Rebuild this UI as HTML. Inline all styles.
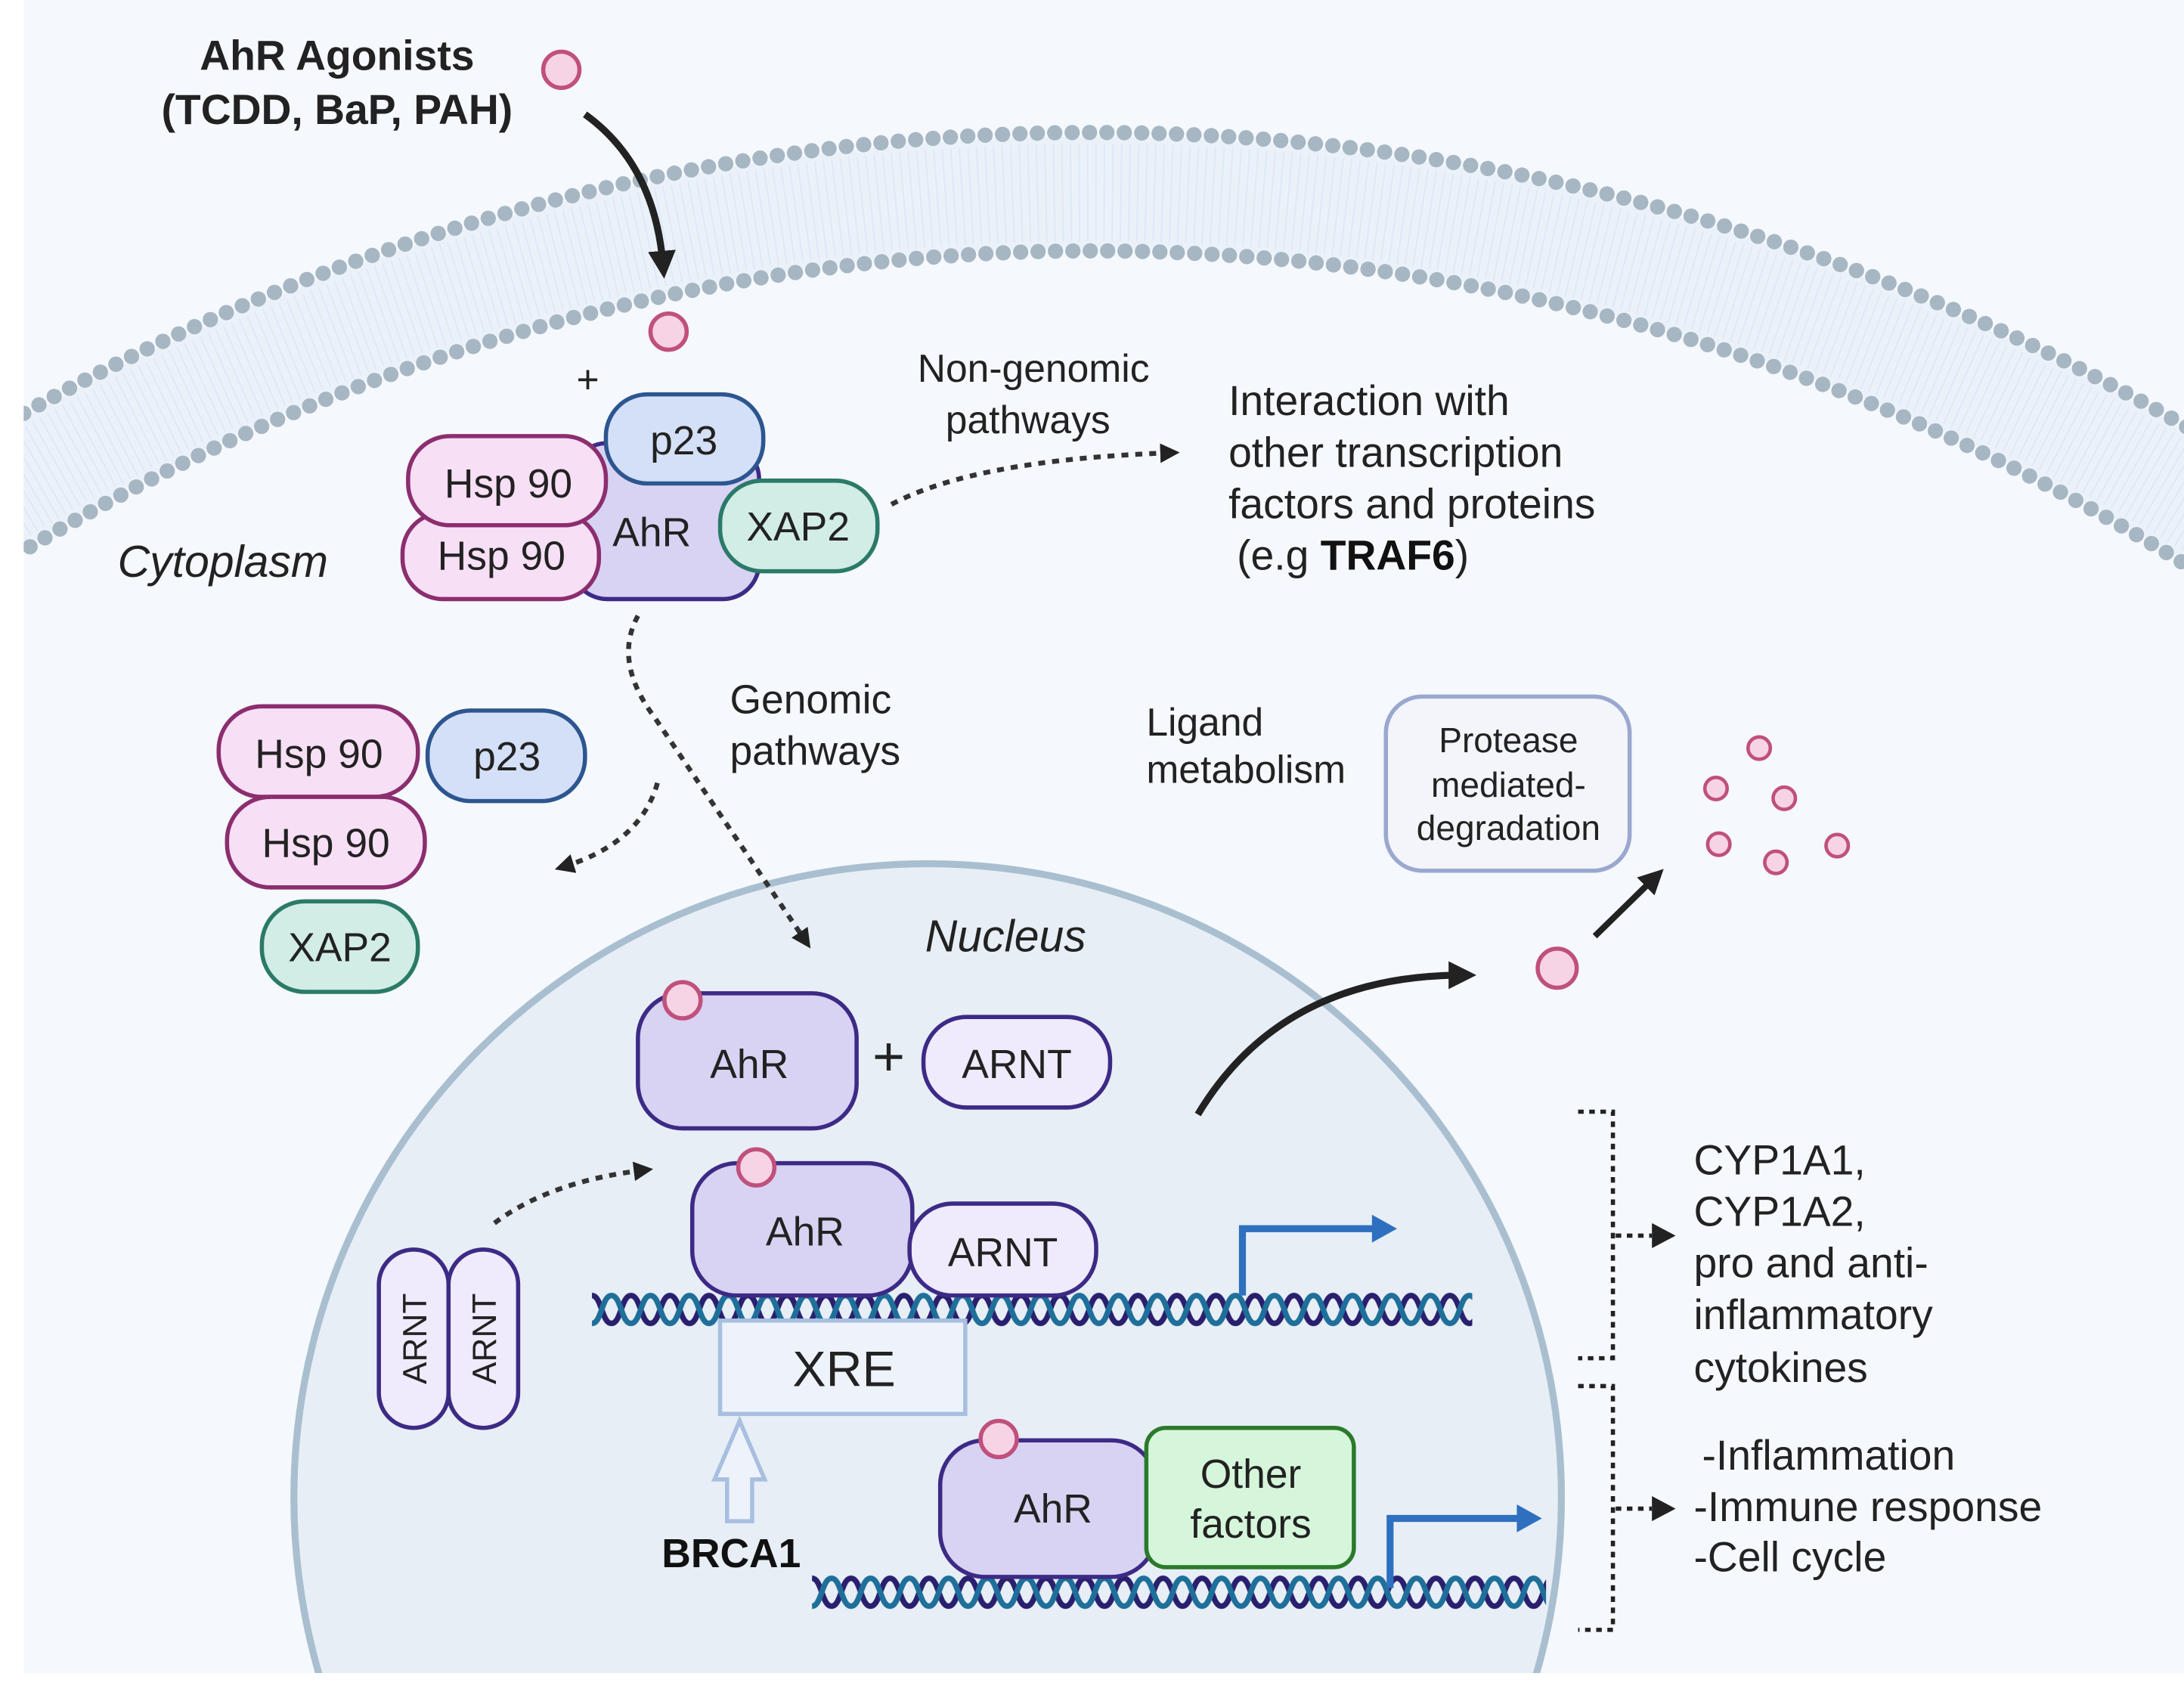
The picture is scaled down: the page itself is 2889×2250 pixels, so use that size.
<!DOCTYPE html>
<html><head><meta charset="utf-8"><style>
html,body{margin:0;padding:0;background:#fff;width:2889px;height:2250px;overflow:hidden;}
svg{display:block}
text{font-family:"Liberation Sans",sans-serif;fill:#222;}
</style></head><body>
<svg width="2889" height="2250" viewBox="0 0 1568 1221" xmlns="http://www.w3.org/2000/svg">
<defs>
<pattern id="dna1" x="425" y="926" width="28" height="28" patternUnits="userSpaceOnUse">
<path d="M0,4 C7,4 7,24 14,24 C21,24 21,4 28,4" fill="none" stroke="#2a1f6e" stroke-width="4"/>
<path d="M0,24 C7,24 7,4 14,4 C21,4 21,24 28,24" fill="none" stroke="#1e6f99" stroke-width="4"/>
</pattern>
<pattern id="dna2" x="583" y="1129" width="28" height="28" patternUnits="userSpaceOnUse">
<path d="M0,4 C7,4 7,24 14,24 C21,24 21,4 28,4" fill="none" stroke="#2a1f6e" stroke-width="4"/>
<path d="M0,24 C7,24 7,4 14,4 C21,4 21,24 28,24" fill="none" stroke="#1e6f99" stroke-width="4"/>
</pattern>
<marker id="ah" viewBox="0 0 10 10" refX="5" refY="5" markerWidth="4" markerHeight="4" orient="auto"><path d="M0,0 L10,5 L0,10z" fill="#222"/></marker>
<clipPath id="cl"><rect x="17" y="0" width="1551" height="1201"/></clipPath>
</defs>
<rect x="0" y="0" width="1568" height="1221" fill="#fff"/>
<g clip-path="url(#cl)">
<rect x="17" y="0" width="1551" height="1201" fill="#f5f8fc"/>
<circle cx="785" cy="1658" r="1520" fill="none" stroke="#eaf1f9" stroke-width="80"/>
<circle cx="785" cy="1658" r="1520" fill="none" stroke="#d6e5f3" stroke-width="70" stroke-dasharray="1 5" opacity="0.6"/>
<circle cx="785" cy="1658" r="1563" fill="none" stroke="#a7b6c3" stroke-width="11" stroke-linecap="round" stroke-dasharray="0 12.5"/>
<circle cx="785" cy="1658" r="1478" fill="none" stroke="#a7b6c3" stroke-width="11" stroke-linecap="round" stroke-dasharray="0 12.5"/>
<circle cx="666" cy="1075" r="455" fill="#e7eef6" stroke="#a9bfd0" stroke-width="5"/>
</g>

<text x="242" y="50" font-size="30" font-weight="bold" text-anchor="middle">AhR Agonists</text>
<text x="242" y="89" font-size="30" font-weight="bold" text-anchor="middle">(TCDD, BaP, PAH)</text>
<circle cx="403" cy="50" r="13" fill="#f7d3e6" stroke="#c0507c" stroke-width="3"/>
<path d="M420,82 Q470,118 476,190" fill="none" stroke="#222" stroke-width="5" marker-end="url(#ah)"/>
<circle cx="480" cy="238" r="13" fill="#f7d3e6" stroke="#c0507c" stroke-width="3"/>
<text x="422" y="282" font-size="28" text-anchor="middle">+</text>

<rect x="410" y="318" width="135" height="112" rx="26" fill="#d8d2f3" stroke="#3d2a85" stroke-width="3"/>
<rect x="435" y="283" width="113" height="64" rx="30" fill="#d4e0f7" stroke="#2d5690" stroke-width="3"/>
<rect x="289" y="368" width="141" height="62" rx="29" fill="#f7dff5" stroke="#8b2e6f" stroke-width="3"/>
<rect x="293" y="313" width="142" height="64" rx="30" fill="#f7dff5" stroke="#8b2e6f" stroke-width="3"/>
<rect x="517" y="345" width="113" height="65" rx="30" fill="#d2ece6" stroke="#2b7a68" stroke-width="3"/>
<text x="491" y="326" font-size="29" text-anchor="middle">p23</text>
<text x="365" y="357" font-size="29" text-anchor="middle">Hsp 90</text>
<text x="360" y="409" font-size="29" text-anchor="middle">Hsp 90</text>
<text x="468" y="392" font-size="29" text-anchor="middle">AhR</text>
<text x="573" y="388" font-size="29" text-anchor="middle">XAP2</text>
<text x="160" y="414" font-size="32" font-style="italic" text-anchor="middle">Cytoplasm</text>

<text x="742" y="274" font-size="28" text-anchor="middle">Non-genomic</text>
<text x="738" y="311" font-size="28" text-anchor="middle">pathways</text>
<path d="M640,362 Q700,330 840,325" fill="none" stroke="#333" stroke-width="3.5" stroke-dasharray="5 5" marker-end="url(#ah)"/>
<text x="882" y="298" font-size="30">Interaction with</text>
<text x="882" y="335" font-size="30">other transcription</text>
<text x="882" y="372" font-size="30">factors and proteins</text>
<text x="888" y="409" font-size="30">(e.g <tspan font-weight="bold" style="fill:#111">TRAF6</tspan>)</text>

<path d="M458,442 Q440,475 470,515 L578,675" fill="none" stroke="#333" stroke-width="3.5" stroke-dasharray="5 5" marker-end="url(#ah)"/>
<text x="524" y="512" font-size="29">Genomic</text>
<text x="524" y="549" font-size="29">pathways</text>
<path d="M472,562 Q460,605 405,622" fill="none" stroke="#333" stroke-width="3.5" stroke-dasharray="5 5" marker-end="url(#ah)"/>

<rect x="157" y="507" width="143" height="65" rx="31" fill="#f7dff5" stroke="#8b2e6f" stroke-width="3"/>
<rect x="307" y="510" width="113" height="65" rx="31" fill="#d4e0f7" stroke="#2d5690" stroke-width="3"/>
<rect x="163" y="572" width="142" height="65" rx="31" fill="#f7dff5" stroke="#8b2e6f" stroke-width="3"/>
<rect x="188" y="647" width="112" height="65" rx="31" fill="#d2ece6" stroke="#2b7a68" stroke-width="3"/>
<text x="229" y="551" font-size="29" text-anchor="middle">Hsp 90</text>
<text x="364" y="553" font-size="29" text-anchor="middle">p23</text>
<text x="234" y="615" font-size="29" text-anchor="middle">Hsp 90</text>
<text x="244" y="690" font-size="29" text-anchor="middle">XAP2</text>

<text x="823" y="528" font-size="28">Ligand</text>
<text x="823" y="562" font-size="28">metabolism</text>
<rect x="995" y="500" width="175" height="125" rx="26" fill="#f3f5fa" stroke="#9aa8d0" stroke-width="3"/>
<text x="1083" y="540" font-size="25" text-anchor="middle">Protease</text>
<text x="1083" y="572" font-size="25" text-anchor="middle">mediated-</text>
<text x="1083" y="603" font-size="25" text-anchor="middle">degradation</text>
<g fill="#f7d3e6" stroke="#c0507c" stroke-width="2.5">
<circle cx="1263" cy="537" r="8"/><circle cx="1232" cy="566" r="8"/><circle cx="1281" cy="573" r="8"/>
<circle cx="1234" cy="606" r="8"/><circle cx="1275" cy="619" r="8"/><circle cx="1319" cy="607" r="8"/>
<circle cx="1118" cy="695" r="14" stroke-width="3"/>
</g>
<path d="M1145,672 L1188,630" stroke="#222" stroke-width="4.5" fill="none" marker-end="url(#ah)"/>
<path d="M860,800 Q920,700 1050,700" stroke="#222" stroke-width="5" fill="none" marker-end="url(#ah)"/>

<text x="722" y="683" font-size="32" font-style="italic" text-anchor="middle">Nucleus</text>
<rect x="458" y="713" width="157" height="97" rx="32" fill="#d8d2f3" stroke="#3d2a85" stroke-width="3"/>
<circle cx="490" cy="718" r="13" fill="#f7d3e6" stroke="#c0507c" stroke-width="3"/>
<text x="538" y="774" font-size="29" text-anchor="middle">AhR</text>
<text x="638" y="772" font-size="40" text-anchor="middle">+</text>
<rect x="663" y="730" width="134" height="65" rx="31" fill="#efeafc" stroke="#3d2a85" stroke-width="3"/>
<text x="730" y="774" font-size="29" text-anchor="middle">ARNT</text>

<rect x="425" y="926" width="632" height="28" fill="url(#dna1)"/>
<rect x="583" y="1129" width="527" height="28" fill="url(#dna2)"/>

<rect x="497" y="835" width="158" height="95" rx="32" fill="#d8d2f3" stroke="#3d2a85" stroke-width="3"/>
<circle cx="543" cy="838" r="13" fill="#f7d3e6" stroke="#c0507c" stroke-width="3"/>
<text x="578" y="894" font-size="29" text-anchor="middle">AhR</text>
<rect x="653" y="864" width="134" height="66" rx="31" fill="#efeafc" stroke="#3d2a85" stroke-width="3"/>
<text x="720" y="909" font-size="29" text-anchor="middle">ARNT</text>

<rect x="517" y="948" width="176" height="67" fill="#eef3fb" stroke="#a9bfe0" stroke-width="3"/>
<text x="606" y="995" font-size="36" text-anchor="middle">XRE</text>
<path d="M531,1020 L549,1062 L540,1062 L540,1092 L522,1092 L522,1062 L513,1062 Z" fill="#eef3fb" stroke="#a9bfe0" stroke-width="3"/>
<text x="525" y="1125" font-size="29" font-weight="bold" text-anchor="middle" style="fill:#111">BRCA1</text>

<rect x="272" y="897" width="50" height="128" rx="25" fill="#efeafc" stroke="#3d2a85" stroke-width="3"/>
<rect x="322" y="897" width="50" height="128" rx="25" fill="#efeafc" stroke="#3d2a85" stroke-width="3"/>
<text transform="translate(306,961) rotate(-90)" font-size="24" text-anchor="middle">ARNT</text>
<text transform="translate(356,961) rotate(-90)" font-size="24" text-anchor="middle">ARNT</text>
<path d="M355,878 Q395,848 462,840" fill="none" stroke="#333" stroke-width="3.5" stroke-dasharray="5 5" marker-end="url(#ah)"/>

<path d="M892,930 L892,882 L988,882" fill="none" stroke="#2f6fbf" stroke-width="5"/>
<path d="M985,872 L1003,882 L985,892 Z" fill="#2f6fbf"/>
<path d="M998,1140 L998,1090 L1092,1090" fill="none" stroke="#2f6fbf" stroke-width="5"/>
<path d="M1089,1080 L1107,1090 L1089,1100 Z" fill="#2f6fbf"/>

<rect x="675" y="1034" width="155" height="98" rx="32" fill="#d8d2f3" stroke="#3d2a85" stroke-width="3"/>
<circle cx="717" cy="1033" r="13" fill="#f7d3e6" stroke="#c0507c" stroke-width="3"/>
<text x="756" y="1093" font-size="29" text-anchor="middle">AhR</text>
<rect x="823" y="1025" width="149" height="100" rx="14" fill="#d6f6dc" stroke="#2a7a2a" stroke-width="3"/>
<text x="898" y="1068" font-size="29" text-anchor="middle">Other</text>
<text x="898" y="1104" font-size="29" text-anchor="middle">factors</text>

<g fill="none" stroke="#222" stroke-width="3" stroke-dasharray="4 4">
<path d="M1133,798 L1158,798 L1158,975 L1133,975"/>
<path d="M1133,995 L1158,995 L1158,1170 L1133,1170"/>
<path d="M1160,887 L1186,887"/>
<path d="M1160,1083 L1186,1083"/>
</g>
<path d="M1186,878 L1203,887 L1186,896 Z" fill="#222"/>
<path d="M1186,1074 L1203,1083 L1186,1092 Z" fill="#222"/>
<g font-size="30">
<text x="1216" y="843">CYP1A1,</text>
<text x="1216" y="880">CYP1A2,</text>
<text x="1216" y="917">pro and anti-</text>
<text x="1216" y="954">inflammatory</text>
<text x="1216" y="992">cytokines</text>
<text x="1222" y="1055">-Inflammation</text>
<text x="1216" y="1092">-Immune response</text>
<text x="1216" y="1128">-Cell cycle</text>
</g>
</svg>
</body></html>
